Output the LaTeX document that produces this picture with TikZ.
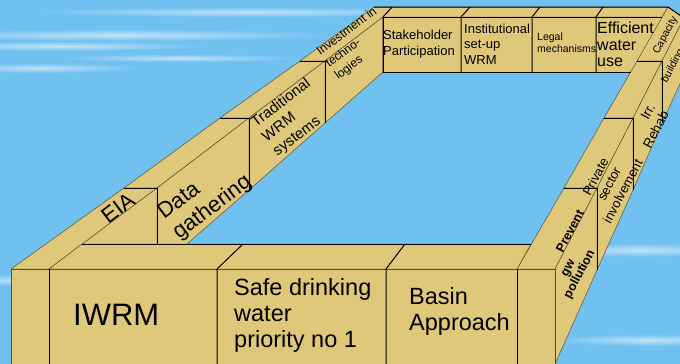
\documentclass[tikz,border=0pt]{standalone}
\usepackage{fontspec}
\setmainfont{Liberation Sans}
\definecolor{sky}{RGB}{112,192,240}
\definecolor{boxtan}{RGB}{224,200,122}
\definecolor{foldline}{RGB}{90,80,45}
\tikzset{
  face/.style={fill=boxtan, draw=foldline, line width=0.5pt, line join=round},
  cut/.style={draw=black, line width=1pt, line join=miter},
  wallL/.style={rotate=37, inner sep=0pt, align=left},
  wallR/.style={rotate=62, inner sep=0pt, align=center},
  lbl/.style={inner sep=0pt, align=left, anchor=base west},
}
\begin{document}
\begin{tikzpicture}[x=1pt,y=-1pt]
\clip (0,0) rectangle (680,364);
\fill[sky] (0,0) rectangle (680,364);
% sky streaks
\foreach \cx/\cy/\rx/\ry in {120/35/220/6, 60/46/150/5, 250/12/220/5, 40/68/100/5,
    180/58/120/4, 20/280/70/6, 640/250/100/7, 650/340/100/6, 560/20/140/5}
  \shade[inner color=white!55!sky, outer color=sky] (\cx,\cy) ellipse ({\rx} and {\ry});

% back wall
\path[face] (361,17) -- (374,7) -- (668,7) -- (662,17) -- cycle;
\path[face] (383,17) rectangle (662,72);
% left wall, back to front
\path[face] (300,61) -- (325,61) -- (383,17) -- (392,7) -- (374,7) -- cycle;
\path[face] (325,61) -- (383,17) -- (383,72) -- (325,123) -- cycle;
\path[face] (220,118) -- (249,118) -- (325,61) -- (300,61) -- cycle;
\path[face] (249,118) -- (325,61) -- (325,123) -- (249,190) -- cycle;
\path[face] (124,188) -- (157,188) -- (249,118) -- (220,118) -- cycle;
\path[face] (157,188) -- (249,118) -- (249,190) -- (157,270) -- cycle;
\path[face] (11,269) -- (49,269) -- (157,188) -- (124,188) -- cycle;
\path[face] (49,269) -- (157,188) -- (157,270) -- (49,364) -- cycle;
\path[face] (11,269) rectangle (49,364);
% right wall, back to front
\path[face] (637,61) -- (662,61) -- (684,18) -- (668,7) -- cycle;
\path[face] (662,61) -- (684,18) -- (684,75) -- (662,123) -- cycle;
\path[face] (604,118) -- (633,118) -- (662,61) -- (637,61) -- cycle;
\path[face] (633,118) -- (662,61) -- (662,123) -- (633,190) -- cycle;
\path[face] (564,188) -- (597,188) -- (633,118) -- (604,118) -- cycle;
\path[face] (597,188) -- (633,118) -- (633,190) -- (597,270) -- cycle;
\path[face] (517,269) -- (555,269) -- (597,188) -- (564,188) -- cycle;
\path[face] (555,269) -- (597,188) -- (597,270) -- (555,364) -- cycle;
\path[face] (517,269) rectangle (555,364);
% front wall
\path[face] (49,269) -- (517,269) -- (531,244) -- (82,244) -- cycle;
\path[face] (49,269) rectangle (517,364);

% block edges
\draw[cut] (374,7) -- (668,7) -- (684,18);
\draw[cut] (662,17) -- (383,17) -- (383,72) -- (631,72);
\foreach \xa/\xb in {383/392, 461/470, 532/540, 596/603}
  \draw[cut] (\xa,72) -- (\xa,17) -- (\xb,7);
\foreach \xo/\xi/\yt/\yb in {300/325/61/123, 220/249/118/190, 124/157/188/244}
  \draw[cut] (\xo,\yt) -- (\xi,\yt) -- (\xi,\yb);
\foreach \xi/\xo/\yt/\yb in {637/662/61/123, 604/633/118/190, 564/597/188/270}
  \draw[cut] (\xi,\yt) -- (\xo,\yt) -- (\xo,\yb);
\draw[cut] (82,244) -- (531,244);
\foreach \xa/\xb in {217/243, 386/405}
  \draw[cut] (\xa,364) -- (\xa,269) -- (\xb,244);
\draw[cut] (49,269) -- (49,364) (517,269) -- (517,364);

% labels, front wall (base = last line)
\node[lbl, font=\fontsize{31}{36}\selectfont] (iwrm) at (73,325) {IWRM};
\node[lbl, font=\fontsize{23.5}{26}\selectfont] (safe) at (234,347) {Safe drinking\\water\\priority no 1};
\node[lbl, font=\fontsize{23.5}{26}\selectfont] (basin) at (409,330) {Basin\\Approach};
% labels, back wall
\node[lbl, font=\fontsize{13}{15.5}\selectfont] (stake) at (383,55) {Stakeholder\\Participation};
\node[lbl, font=\fontsize{13}{15.3}\selectfont] (inst) at (464,64) {Institutional\\set-up\\WRM};
\node[lbl, font=\fontsize{10.5}{12.2}\selectfont] (legal) at (537,52.7) {Legal\\mechanisms};
\node[lbl, font=\fontsize{16}{16.7}\selectfont] (effic) at (597,66.7) {Efficient\\water\\use};
% labels, left wall
\node[wallL, font=\fontsize{22}{25}\selectfont] (eia) at (118,208) {EIA};
\node[wallL, font=\fontsize{22}{25}\selectfont] (data) at (205,198) {Data\\gathering};
\node[wallL, font=\fontsize{15}{18}\selectfont] (trad) at (292,118) {Traditional\\WRM\\systems};
\node[wallL, font=\fontsize{12}{15}\selectfont] (invest) at (356,44) {Investment in\\techno-\\logies};
% labels, right wall
\node[wallR, font=\bfseries\fontsize{12.5}{13}\selectfont] (prevent) at (570,231) {Prevent};
\node[wallR, font=\bfseries\fontsize{12.5}{13}\selectfont] (gwpol) at (575,272) {gw\\pollution};
\node[wallR, font=\fontsize{13}{15.4}\selectfont] (private) at (609,184) {Private\\sector\\involvement};
\node[wallR, align=right, font=\fontsize{13.5}{15.4}\selectfont] (irr) at (649,126) {Irr.\\Rehab};
\node[wallR, font=\fontsize{10.5}{12}\selectfont] (capac) at (665.5,35.5) {Capacity};
\node[wallR, font=\fontsize{10.5}{12}\selectfont] (build) at (673,66) {building};
\end{tikzpicture}
\end{document}
